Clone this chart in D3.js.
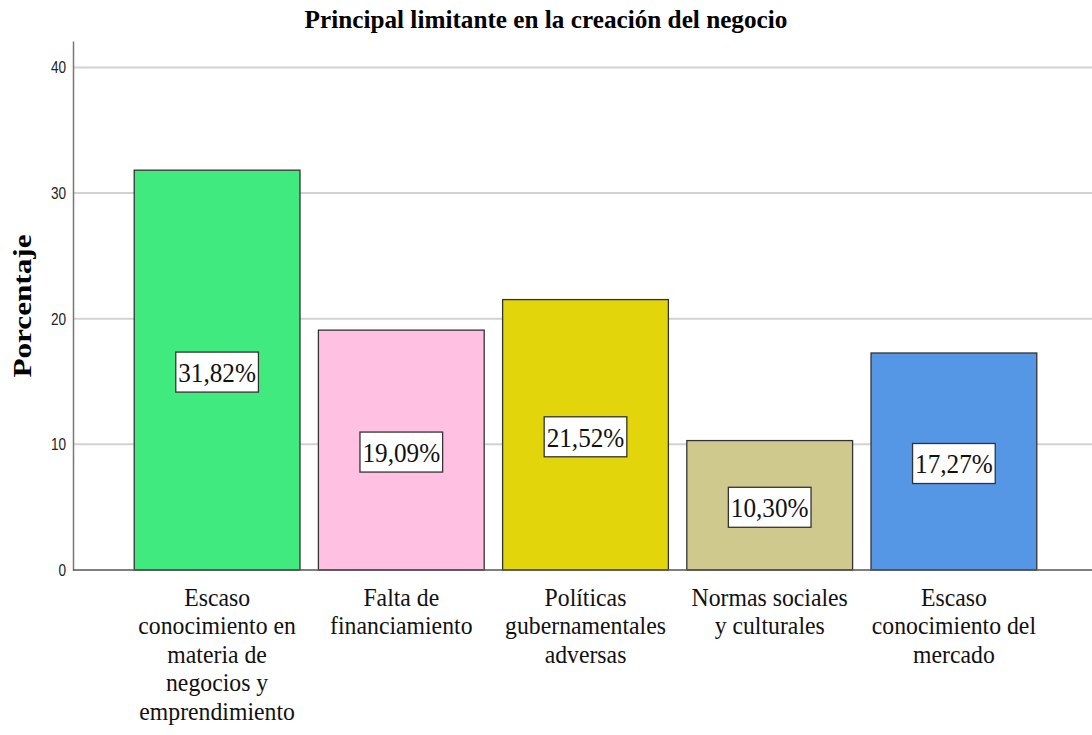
<!DOCTYPE html>
<html>
<head>
<meta charset="utf-8">
<script src="https://cdn.jsdelivr.net/npm/d3@7"></script>
<style>
  body { margin: 0; background: #fff; }
  svg { display: block; }
</style>
</head>
<body>
<div class="chart"></div>
<script>
var categories = [
  ["Escaso", "conocimiento en", "materia de", "negocios y", "emprendimiento"],
  ["Falta de", "financiamiento"],
  ["Políticas", "gubernamentales", "adversas"],
  ["Normas sociales", "y culturales"],
  ["Escaso", "conocimiento del", "mercado"]
];
var values = [31.82, 19.09, 21.52, 10.30, 17.27];
var barColors = ["#40ea7e", "#ffc0e1", "#e2d50c", "#cfc98d", "#5596e5"];
var yTicks = [0, 10, 20, 30, 40];

var draw = function () {

  var width = 1092, height = 735;
  var plot = { left: 73, right: 1092, top: 41, bottom: 570 };

  var svg = d3.select(".chart").append("svg")
    .attr("width", width)
    .attr("height", height);

  var keys = categories.map(function (c, i) { return i; });

  var x = d3.scaleBand()
    .domain(keys)
    .range([125, 1046])
    .paddingInner(0.1)
    .paddingOuter(0.05);

  var y = d3.scaleLinear()
    .domain([0, 42.1])
    .range([plot.bottom, plot.top]);

  // gridlines
  svg.append("g")
    .selectAll("line")
    .data(yTicks.filter(function (d) { return d > 0; }))
    .enter().append("line")
    .attr("x1", plot.left)
    .attr("x2", plot.right)
    .attr("y1", function (d) { return y(d); })
    .attr("y2", function (d) { return y(d); })
    .attr("stroke", "#d2d2d2")
    .attr("stroke-width", 2);

  // bars
  svg.append("g")
    .selectAll("rect")
    .data(values)
    .enter().append("rect")
    .attr("x", function (d, i) { return x(i); })
    .attr("y", function (d) { return y(d); })
    .attr("width", x.bandwidth())
    .attr("height", function (d) { return y(0) - y(d); })
    .attr("fill", function (d, i) { return barColors[i]; })
    .attr("stroke", "#333")
    .attr("stroke-width", 1.3);

  // y axis
  var yAxis = svg.append("g")
    .attr("transform", "translate(" + plot.left + ",0)")
    .call(d3.axisLeft(y).tickValues(yTicks).tickSize(0).tickPadding(0));
  yAxis.select(".domain").attr("stroke", "#777").attr("stroke-width", 1.5);
  yAxis.selectAll("text")
    .attr("x", 0)
    .attr("dy", "0.35em")
    .attr("transform", "translate(-7,0) scale(0.85,1)")
    .style("font-family", "'Liberation Sans', Arial, sans-serif")
    .style("font-size", "16px")
    .attr("fill", "#222");

  // x axis baseline
  svg.append("line")
    .attr("x1", plot.left)
    .attr("x2", plot.right)
    .attr("y1", y(0))
    .attr("y2", y(0))
    .attr("stroke", "#555")
    .attr("stroke-width", 1.5);

  // value labels with boxes
  var labels = svg.append("g")
    .selectAll("g")
    .data(values)
    .enter().append("g")
    .attr("transform", function (d, i) {
      return "translate(" + (x(i) + x.bandwidth() / 2) + "," + ((y(0) + y(d)) / 2 + 2) + ")";
    });

  labels.each(function (d) {
    var g = d3.select(this);
    var box = g.append("rect");
    var t = g.append("text")
      .attr("text-anchor", "middle")
      .attr("dy", "0.35em")
      .attr("transform", "scale(0.9,1)")
      .style("font-family", "'Liberation Serif', 'Times New Roman', serif")
      .style("font-size", "28px")
      .attr("fill", "#111")
      .text(d.toFixed(2).replace(".", ",") + "%");
    var bb = t.node().getBBox();
    var w = bb.width * 0.9 + 5;
    box.attr("x", -w / 2)
      .attr("y", -20)
      .attr("width", w)
      .attr("height", 40)
      .attr("fill", "#fff")
      .attr("stroke", "#333")
      .attr("stroke-width", 1.3);
  });

  // category labels
  var cats = svg.append("g")
    .selectAll("text")
    .data(categories)
    .enter().append("text")
    .attr("text-anchor", "middle")
    .attr("transform", function (d, i) {
      return "translate(" + (x(i) + x.bandwidth() / 2) + ",606) scale(0.95,1)";
    })
    .style("font-family", "'Liberation Serif', 'Times New Roman', serif")
    .style("font-size", "25px")
    .attr("fill", "#111");

  cats.selectAll("tspan")
    .data(function (d) { return d; })
    .enter().append("tspan")
    .attr("x", 0)
    .attr("y", function (d, i) { return i * 28.5; })
    .text(function (d) { return d; });

  // title
  svg.append("text")
    .attr("text-anchor", "middle")
    .attr("transform", "translate(546,28) scale(0.97,1)")
    .style("font-family", "'Liberation Serif', 'Times New Roman', serif")
    .style("font-size", "26px")
    .style("font-weight", "bold")
    .attr("fill", "#000")
    .text("Principal limitante en la creación del negocio");

  // y label
  svg.append("text")
    .attr("text-anchor", "middle")
    .attr("transform", "translate(31,306) rotate(-90) scale(1.2,1)")
    .style("font-family", "'Liberation Serif', 'Times New Roman', serif")
    .style("font-size", "26px")
    .style("font-weight", "bold")
    .attr("fill", "#000")
    .text("Porcentaje");
};

draw();
</script>
</body>
</html>
